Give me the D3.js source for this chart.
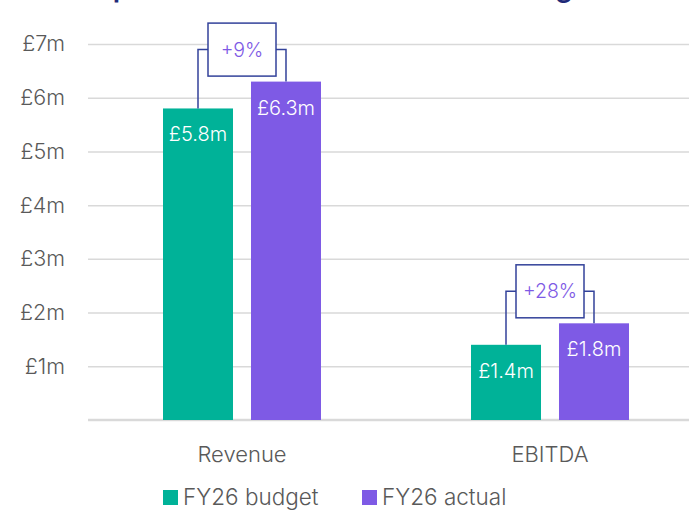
<!DOCTYPE html>
<html>
<head>
<meta charset="utf-8">
<script src="https://cdn.jsdelivr.net/npm/d3@7"></script>
<style>
  body { margin: 0; background: #fff; }
  svg { display: block; font-family: Inter, "Noto Sans", sans-serif; }
</style>
</head>
<body>
<svg width="689" height="510"></svg>
<script>
var categories = ["Revenue", "EBITDA"];
var seriesNames = ["FY26 budget", "FY26 actual"];
var budget = [5.8, 1.4];
var actual = [6.3, 1.8];
var barLabels = [["£5.8m", "£6.3m"], ["£1.4m", "£1.8m"]];
var changes = ["+9%", "+28%"];
var yTicks = [1, 2, 3, 4, 5, 6, 7];
var colors = ["#00b298", "#7e5ae5"];

(function () {
    'use strict';

    var svg = d3.select("svg");

    var x0 = d3.scaleBand().domain(categories).range([88, 704]);
    var x1 = d3.scaleBand().domain(seriesNames).range([0, 158]).paddingInner(0.2045);
    var y = d3.scaleLinear().domain([0, 7]).range([420, 44]);

    // title, mostly above the frame (only descenders show)
    svg.append("text")
        .attr("x", 66)
        .attr("y", -3)
        .attr("fill", "#1f2a78")
        .attr("font-size", 28)
        .attr("font-weight", 600)
        .attr("textLength", 532)
        .attr("lengthAdjust", "spacing")
        .text("Outperformance across the FY26 budget");

    // gridlines + y labels
    var yAxis = d3.axisLeft(y)
        .tickValues(yTicks)
        .tickSize(-(689 - 88))
        .tickPadding(23)
        .tickFormat(function (d) { return "£" + d + "m"; });

    var ga = svg.append("g")
        .attr("transform", "translate(88,0)")
        .call(yAxis);
    ga.select(".domain").remove();
    ga.selectAll(".tick line").attr("stroke", "#d9d9d9").attr("stroke-width", 1.5);
    ga.selectAll(".tick text")
        .attr("fill", "#595959")
        .attr("font-size", 21.5)
        .attr("font-weight", 300)
        .attr("font-family", "Inter, 'Noto Sans', sans-serif");

    // baseline
    svg.append("line")
        .attr("x1", 88).attr("x2", 689)
        .attr("y1", y(0)).attr("y2", y(0))
        .attr("stroke", "#d9d9d9").attr("stroke-width", 2.5);

    var rows = categories.map(function (c, i) {
        return { cat: c, vals: [budget[i], actual[i]], labels: barLabels[i], change: changes[i] };
    });

    var groups = svg.selectAll(".grp")
        .data(rows)
        .enter().append("g")
        .attr("class", "grp")
        .attr("transform", function (d) { return "translate(" + (x0(d.cat) + x0.bandwidth() / 2 - 79) + ",0)"; });

    groups.selectAll("rect")
        .data(function (d) {
            return d.vals.map(function (v, j) { return { s: seriesNames[j], v: v, j: j, label: d.labels[j] }; });
        })
        .enter().append("rect")
        .attr("x", function (d) { return x1(d.s); })
        .attr("y", function (d) { return y(d.v); })
        .attr("width", x1.bandwidth())
        .attr("height", function (d) { return y(0) - y(d.v); })
        .attr("fill", function (d) { return colors[d.j]; });

    groups.selectAll(".bar-label")
        .data(function (d) {
            return d.vals.map(function (v, j) { return { s: seriesNames[j], v: v, label: d.labels[j] }; });
        })
        .enter().append("text")
        .attr("class", "bar-label")
        .attr("x", function (d) { return x1(d.s) + x1.bandwidth() / 2; })
        .attr("y", function (d) { return y(d.v) + 33; })
        .attr("text-anchor", "middle")
        .attr("fill", "#fff")
        .attr("font-size", 20)
        .attr("font-weight", 300)
        .text(function (d) { return d.label; });

    // change callouts
    var boxW = 68, boxH = 53;
    groups.each(function (d) {
        var g = d3.select(this);
        var bx = x1("FY26 budget") + x1.bandwidth() / 2;
        var ax = x1("FY26 actual") + x1.bandwidth() / 2;
        var top = y(d.vals[1]);
        var mid = top - 32;
        var cx = 79;
        g.append("path")
            .attr("d", "M" + bx + "," + y(d.vals[0]) + "V" + mid + "H" + (cx - boxW / 2) +
                "M" + (cx + boxW / 2) + "," + mid + "H" + ax + "V" + top)
            .attr("fill", "none")
            .attr("stroke", "#33429a")
            .attr("stroke-width", 1.5);
        g.append("rect")
            .attr("x", cx - boxW / 2)
            .attr("y", mid - boxH / 2)
            .attr("width", boxW)
            .attr("height", boxH)
            .attr("fill", "#fff")
            .attr("stroke", "#33429a")
            .attr("stroke-width", 1.5);
        g.append("text")
            .attr("x", cx)
            .attr("y", mid + 7)
            .attr("text-anchor", "middle")
            .attr("fill", "#7e5ae5")
            .attr("font-size", 19.5)
            .attr("font-weight", 300)
            .text(d.change);
    });

    // category labels
    svg.selectAll(".cat-label")
        .data(categories)
        .enter().append("text")
        .attr("class", "cat-label")
        .attr("x", function (d) { return x0(d) + x0.bandwidth() / 2; })
        .attr("y", 462)
        .attr("text-anchor", "middle")
        .attr("fill", "#595959")
        .attr("font-size", 22)
        .attr("font-weight", 300)
        .text(function (d) { return d; });

    // legend
    var legendX = [163, 362];
    var leg = svg.selectAll(".leg")
        .data(seriesNames)
        .enter().append("g")
        .attr("class", "leg")
        .attr("transform", function (d, i) { return "translate(" + legendX[i] + ",0)"; });
    leg.append("rect")
        .attr("x", 0).attr("y", 490)
        .attr("width", 15).attr("height", 15)
        .attr("fill", function (d, i) { return colors[i]; });
    leg.append("text")
        .attr("x", 20).attr("y", 505)
        .attr("fill", "#595959")
        .attr("font-size", 22.5)
        .attr("font-weight", 300)
        .text(function (d) { return d; });
}());
</script>
</body>
</html>
